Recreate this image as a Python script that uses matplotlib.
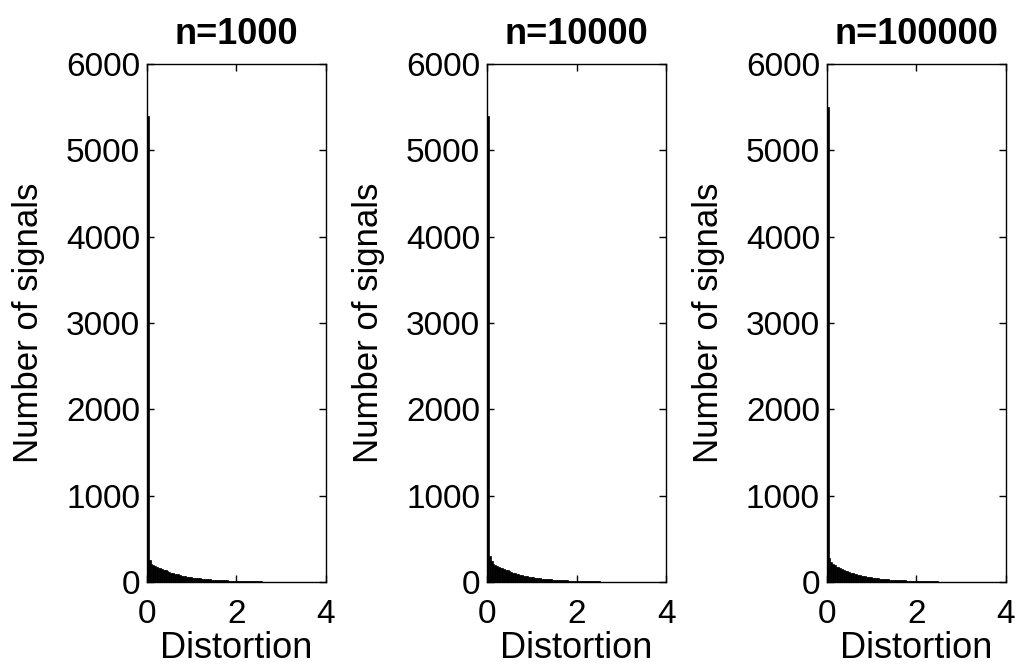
import matplotlib
matplotlib.use("Agg")
import matplotlib.pyplot as plt
import numpy as np

plt.rcParams['font.family'] = ['Liberation Sans', 'DejaVu Sans']

titles = ["n=1000", "n=10000", "n=100000"]
bin_width = 0.04
counts_1000 = [5400, 260, 210, 195, 185, 175, 168, 160, 150, 140, 135, 125, 120, 110, 105, 97,
               92, 88, 80, 76, 70, 68, 62, 60, 55, 52, 50, 47, 44, 42, 40, 38, 35, 33, 32, 30,
               28, 27, 25, 24, 23, 22, 21, 20, 19, 18, 17, 16, 15, 15, 14, 13, 13, 12, 11, 11,
               10, 10, 9, 9, 8, 8, 7, 7, 6, 6, 5, 5, 5, 4, 4, 3, 3, 3, 2, 2, 2, 1, 1, 1]
counts_10000 = [5400, 300, 240, 215, 200, 185, 175, 165, 165, 150, 140, 135, 125, 118, 110, 102,
                95, 90, 85, 80, 74, 70, 65, 62, 58, 55, 52, 48, 45, 43, 40, 38, 36, 34, 32, 30,
                29, 27, 26, 24, 23, 22, 21, 20, 19, 18, 17, 16, 15, 14, 14, 13, 12, 12, 11, 10,
                10, 9, 9, 8, 8, 7, 7, 6, 6, 5, 5, 5, 4, 4, 3, 3, 3, 2, 2, 2, 1, 1, 1, 1]
counts_100000 = [5500, 280, 230, 210, 195, 180, 170, 160, 150, 140, 132, 125, 118, 110, 103, 96,
                 90, 85, 80, 75, 70, 66, 62, 58, 55, 52, 49, 46, 43, 41, 39, 37, 35, 33, 31, 29,
                 28, 26, 25, 24, 22, 21, 20, 19, 18, 17, 16, 15, 14, 14, 13, 12, 12, 11, 10, 10,
                 9, 9, 8, 8, 7, 7, 6, 6, 5, 5, 5, 4, 4, 3, 3, 3, 2, 2, 2, 1, 1, 1, 1, 1]
all_counts = [counts_1000, counts_10000, counts_100000]

fig = plt.figure(figsize=(10.17, 6.66), dpi=100)
lefts = [0.1445, 0.479, 0.813]
for left, title, counts in zip(lefts, titles, all_counts):
    ax = fig.add_axes([left, 0.126, 0.176, 0.778])
    edges = np.arange(len(counts)) * bin_width
    ax.bar(edges, counts, width=bin_width, align='edge', color='black',
           edgecolor='black', linewidth=0.5)
    ax.set_xlim(0, 4)
    ax.set_ylim(0, 6000)
    ax.set_xticks([0, 2, 4])
    ax.set_yticks(range(0, 6001, 1000))
    ax.tick_params(direction='in', length=5, width=1, labelsize=24, top=True, right=True)
    ax.tick_params(axis='y', pad=5)
    ax.tick_params(axis='x', pad=12)
    for s in ax.spines.values():
        s.set_linewidth(1)
    ax.set_xlabel("Distortion", fontsize=26, labelpad=1)
    ax.set_ylabel("Number of signals", fontsize=25, labelpad=15)
    ax.set_title(title, fontsize=26, fontweight='bold', pad=14)

fig.savefig("out.png", dpi=100)
